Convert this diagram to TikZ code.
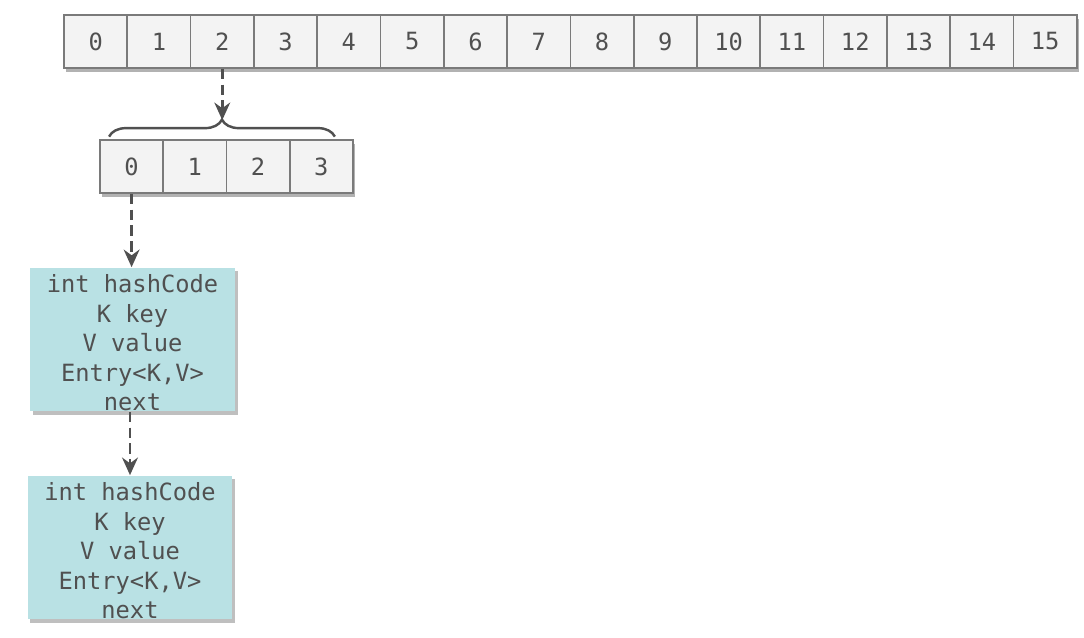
\documentclass[tikz,border=0pt]{standalone}
\usepackage{fontspec}
\setmonofont{DejaVu Sans Mono}
\usetikzlibrary{arrows.meta,decorations.pathreplacing,shadows}
\definecolor{txtgray}{HTML}{505050}
\definecolor{cellgray}{HTML}{F3F3F3}
\definecolor{linegray}{HTML}{7A7A7A}
\definecolor{entryteal}{HTML}{B9E1E4}
\begin{document}
\begin{tikzpicture}[x=0.02cm, y=-0.02cm,
  cell/.style={draw=linegray, line width=1pt, fill=cellgray, minimum width=1.266cm, minimum height=1.06cm, inner sep=0pt, text=txtgray, font=\ttfamily\fontsize{13.5}{16}\selectfont, drop shadow={shadow xshift=1pt, shadow yshift=-2pt, fill=black!30, opacity=1}},
  entry/.style={fill=entryteal, minimum width=4.1cm, minimum height=2.88cm, inner sep=0pt, align=center, text=txtgray, font=\ttfamily\fontsize{13.5}{16.8}\selectfont, drop shadow={shadow xshift=1.5pt, shadow yshift=-2pt, fill=black!25, opacity=1}},
  link/.style={-{Stealth[length=10pt,width=9pt,fill=txtgray]}, dash pattern=on 6pt off 3pt, line width=1.5pt, draw=txtgray}]
\useasboundingbox (0,0) rectangle (1084,638);
\foreach \i in {0,...,15}
  \node[cell] (t\i) at ({95.65+63.3*\i},41.5) {\i};
\foreach \i in {0,...,3}
  \node[cell] (s\i) at ({131.6+63.25*\i},166.5) {\i};
\draw[line width=1.4pt, draw=txtgray, decorate, decoration={brace, amplitude=0.34cm}]
  ([xshift=0.2cm,yshift=0.05cm]s0.north west) -- ([xshift=-0.38cm,yshift=0.05cm]s3.north east);
\coordinate (tip) at ([yshift=0.38cm]s1.north east);
\draw[link] (t2.south) -- (t2.south |- tip);
\node[entry] (e1) at (132.5,339.5) {\rule{0pt}{14pt}int hashCode\\K key\\V value\\Entry<K,V>\\next};
\node[entry] (e2) at (130,547.5) {\rule{0pt}{14pt}int hashCode\\K key\\V value\\Entry<K,V>\\next};
\draw[link] (s0.south) -- (s0.south |- e1.north);
\draw[link] (e1.south -| e2.north) -- (e2.north);
\end{tikzpicture}
\end{document}
